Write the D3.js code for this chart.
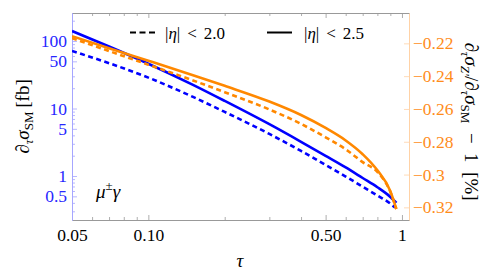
<!DOCTYPE html>
<html>
<head>
<meta charset="utf-8">
<script src="https://cdn.jsdelivr.net/npm/d3@7"></script>
<style>
  html, body { margin: 0; padding: 0; background: #fff; }
  svg { display: block; }
  svg text { font-family: "Liberation Serif", "Times New Roman", serif; }
</style>
</head>
<body>
<div id="chart"></div>
<script>
// ---- data ----
const TAU = [0.05, 0.07, 0.1, 0.15, 0.2, 0.3, 0.4, 0.5, 0.6, 0.7, 0.8, 0.9, 0.95];
const TAU_DASH = [0.05, 0.07, 0.1, 0.15, 0.2, 0.3, 0.4, 0.5, 0.6, 0.7, 0.8, 0.9, 0.94];

// d_tau sigma_SM [fb]  (left axis, blue)
const SIGMA_ETA25 = [140.6, 82.9, 46.1, 22.4, 12.96, 5.85, 3.21, 1.99, 1.34, 0.934, 0.682, 0.490, 0.401];
const SIGMA_ETA20 = [71.1, 46.9, 28.7, 14.85, 8.90, 4.20, 2.35, 1.46, 0.983, 0.694, 0.514, 0.390, 0.340];

// relative deviation [%]  (right axis, orange)
const RATIO_ETA25 = [-0.2156, -0.2230, -0.2306, -0.2394, -0.2459, -0.2555, -0.2637, -0.2716, -0.2792, -0.2876, -0.2974, -0.3101, -0.3210];
const RATIO_ETA20 = [-0.2168, -0.2247, -0.2330, -0.2426, -0.2498, -0.2603, -0.2691, -0.2773, -0.2846, -0.2924, -0.2984, -0.3106, -0.3210];

const X_TICKS = [0.05, 0.1, 0.5, 1];
const X_TICK_LABELS = ["0.05", "0.10", "0.50", "1"];
const X_MINOR = [0.06, 0.07, 0.08, 0.09, 0.2, 0.3, 0.4, 0.6, 0.7, 0.8, 0.9];
const YL_TICKS = [100, 50, 10, 5, 1, 0.5];
const YL_TICK_LABELS = ["100", "50", "10", "5", "1", "0.5"];
const YL_MINOR = [0.3, 0.4, 0.6, 0.7, 0.8, 0.9, 2, 3, 4, 6, 7, 8, 9, 20, 30, 40, 60, 70, 80, 90, 200];
const YR_TICKS = [-0.22, -0.24, -0.26, -0.28, -0.3, -0.32];
const YR_TICK_LABELS = ["\u22120.22", "\u22120.24", "\u22120.26", "\u22120.28", "\u22120.3", "\u22120.32"];

// ---- layout ----
const W = 488, H = 270;
const L = 72, R = 409, T = 13, B = 220;
const BLUE = "#0000ff", BLUE_TXT = "#2626ff";
const ORANGE = "#ff8800", ORANGE_TXT = "#ff8c1a";
const TICK_FS = 17.5, TITLE_FS = 19, SUB_FS = 13;

const svg = d3.select("#chart").append("svg")
  .attr("width", W).attr("height", H);

const x = d3.scaleLog().domain([0.05, 1.066]).range([L, R]);
const yL = d3.scaleLog().domain([0.223, 260]).range([B, T]);
const yR = d3.scaleLinear().domain([-0.3277, -0.2015]).range([B, T]);

// ---- axes ----
function styleAxis(sel, color, txtColor) {
  sel.attr("font-family", null).attr("font-size", null);
  sel.select(".domain").attr("stroke", color).attr("stroke-width", 1);
  sel.selectAll(".tick line").attr("stroke", color).attr("stroke-width", 0.8);
  sel.selectAll(".tick text").attr("fill", txtColor).attr("font-size", TICK_FS);
}

function addAxis(axis, tx, ty, color, txtColor) {
  const g = svg.append("g").attr("transform", `translate(${tx},${ty})`).call(axis);
  styleAxis(g, color, txtColor);
  return g;
}

// bottom and top
addAxis(d3.axisBottom(x).tickValues(X_TICKS).tickSizeInner(-5).tickSizeOuter(0).tickPadding(8.5)
  .tickFormat((d, i) => X_TICK_LABELS[i]), 0, B, "#999", "#000");
addAxis(d3.axisBottom(x).tickValues(X_MINOR).tickSizeInner(-3).tickSizeOuter(0).tickFormat(""), 0, B, "#999", "#000");
addAxis(d3.axisTop(x).tickValues(X_TICKS).tickSizeInner(-5).tickSizeOuter(0).tickFormat(""), 0, T, "#999", "#000");
addAxis(d3.axisTop(x).tickValues(X_MINOR).tickSizeInner(-3).tickSizeOuter(0).tickFormat(""), 0, T, "#999", "#000");

// left (blue, log)
addAxis(d3.axisLeft(yL).tickValues(YL_TICKS).tickSizeInner(-5).tickSizeOuter(0).tickPadding(5)
  .tickFormat((d, i) => YL_TICK_LABELS[i]), L, 0, "#a6a6ff", BLUE_TXT);
addAxis(d3.axisLeft(yL).tickValues(YL_MINOR).tickSizeInner(-3).tickSizeOuter(0).tickFormat(""), L, 0, "#a6a6ff", BLUE_TXT);

// right (orange, linear)
addAxis(d3.axisRight(yR).tickValues(YR_TICKS).tickSizeInner(-5).tickSizeOuter(0).tickPadding(4)
  .tickFormat((d, i) => YR_TICK_LABELS[i]), R, 0, "#ffd2a6", ORANGE_TXT);

// ---- curves ----
svg.append("clipPath").attr("id", "plot-clip")
  .append("rect").attr("x", L).attr("y", T).attr("width", R - L).attr("height", B - T);

const plot = svg.append("g").attr("clip-path", "url(#plot-clip)");

function drawCurve(taus, vals, yScale, color, dashed) {
  const pts = taus.map((t, i) => [x(t), yScale(vals[i])]);
  plot.append("path")
    .attr("d", d3.line().curve(d3.curveMonotoneX)(pts))
    .attr("fill", "none")
    .attr("stroke", color)
    .attr("stroke-width", 2.6)
    .attr("stroke-dasharray", dashed ? "5,3.5" : null);
}

drawCurve(TAU_DASH, SIGMA_ETA20, yL, BLUE, true);
drawCurve(TAU, SIGMA_ETA25, yL, BLUE, false);
drawCurve(TAU, RATIO_ETA20, yR, ORANGE, true);
drawCurve(TAU, RATIO_ETA25, yR, ORANGE, false);

// ---- legend ----
function legendLabel(xPos, value) {
  const t = svg.append("text").attr("x", xPos).attr("y", 38.5).attr("font-size", 17);
  t.append("tspan").text("|");
  t.append("tspan").attr("font-style", "italic").text("η");
  t.append("tspan").text("|");
  t.append("tspan").attr("dx", 7).text("<");
  t.append("tspan").attr("dx", 7).text(value);
}
svg.append("line").attr("x1", 130).attr("x2", 155).attr("y1", 32.5).attr("y2", 32.5)
  .attr("stroke", "#000").attr("stroke-width", 2).attr("stroke-dasharray", "6,3.5");
legendLabel(165, "2.0");
svg.append("line").attr("x1", 267).attr("x2", 292).attr("y1", 32.5).attr("y2", 32.5)
  .attr("stroke", "#000").attr("stroke-width", 2);
legendLabel(304, "2.5");

// process label
const proc = svg.append("text").attr("x", 96).attr("y", 198).attr("font-size", 19);
proc.append("tspan").attr("font-style", "italic").text("μ");
proc.append("tspan").attr("font-size", 13).attr("dy", -8).text("±");
proc.append("tspan").attr("font-style", "italic").attr("dy", 8).text("γ");

// ---- axis titles ----
svg.append("text").attr("x", 240).attr("y", 267).attr("text-anchor", "middle")
  .attr("font-size", TITLE_FS).attr("font-style", "italic").text("τ");

function sub(t, txt, italic) {
  t.append("tspan").attr("font-style", italic ? "italic" : null)
    .attr("font-size", SUB_FS).attr("dy", 4).text(txt);
}
function main(t, txt, italic) {
  t.append("tspan").attr("font-style", italic ? "italic" : null).attr("dy", -4).text(txt);
}

const tl = svg.append("text")
  .attr("transform", `translate(25,${(T + B) / 2}) rotate(-90)`)
  .attr("text-anchor", "middle").attr("font-size", TITLE_FS);
tl.append("tspan").attr("dy", 4).text("∂");
sub(tl, "τ", true); main(tl, "σ", true); sub(tl, "SM", false); main(tl, "\u2009[fb]", false);

const tr = svg.append("text")
  .attr("transform", `translate(469,${(T + B) / 2 + 5}) rotate(90)`)
  .attr("text-anchor", "middle").attr("font-size", TITLE_FS);
tr.append("tspan").attr("dy", 4).text("∂");
sub(tr, "τ", true); main(tr, "σ", true); sub(tr, "Z′", true);
main(tr, "/∂", false); sub(tr, "τ", true); main(tr, "σ", true); sub(tr, "SM", false);
main(tr, "\u2002\u2212\u20021\u2002[%]", false);
</script>
</body>
</html>
